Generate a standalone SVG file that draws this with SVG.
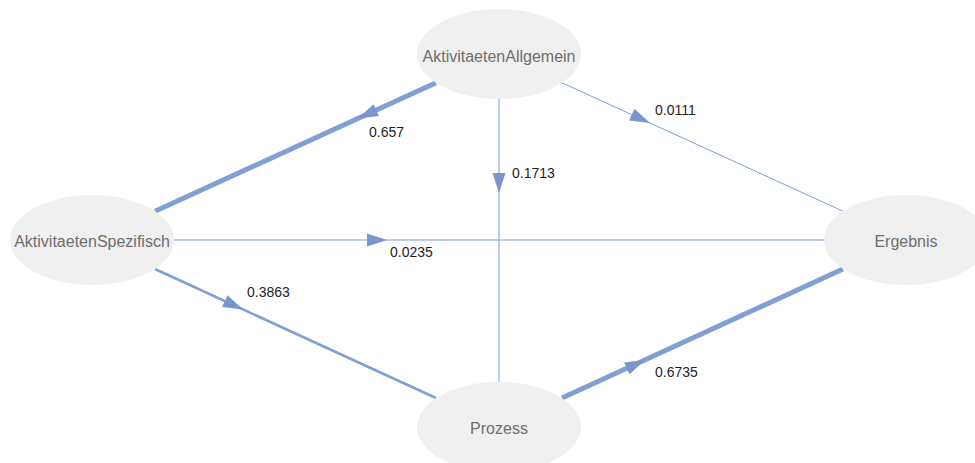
<svg xmlns="http://www.w3.org/2000/svg" width="975" height="463" viewBox="0 0 975 463">
<style>
.edge{stroke:#809fd2;fill:none;stroke-linecap:butt}
.ah{fill:#7896cc}
.node ellipse{fill:#f0f0f0}
.node text{font-family:"Liberation Sans",Arial,sans-serif;font-size:16px;fill:#6e6e6e;text-anchor:middle}
.lbl{font-family:"Liberation Sans",Arial,sans-serif;font-size:14px;fill:#1e1e1e}
</style>
<defs>
<path id="ah" d="M0,0 L-20,-6.5 L-20,6.5 Z"/>
</defs>
<rect width="975" height="463" fill="#ffffff"/>
<g id="connectors">
<line class="edge" x1="436" y1="82.8" x2="155" y2="211.2" stroke-width="5"/>
<use href="#ah" class="ah" transform="translate(358,118.5) rotate(155.44)"/>
<text class="lbl" x="369" y="137">0.657</text>

<line class="edge" x1="155" y1="269" x2="436" y2="398" stroke-width="2.6"/>
<use href="#ah" class="ah" transform="translate(243,309.4) rotate(24.68)"/>
<text class="lbl" x="247" y="297">0.3863</text>

<line class="edge" x1="174" y1="240" x2="824" y2="240" stroke-width="1"/>
<use href="#ah" class="ah" transform="translate(387,240)"/>
<text class="lbl" x="390" y="257">0.0235</text>

<line class="edge" x1="499" y1="99" x2="499" y2="382" stroke-width="1"/>
<use href="#ah" class="ah" transform="translate(499,193) rotate(90)"/>
<text class="lbl" x="512" y="178">0.1713</text>

<line class="edge" x1="562" y1="82.8" x2="843" y2="211.2" stroke-width="1"/>
<use href="#ah" class="ah" transform="translate(650,123) rotate(24.56)"/>
<text class="lbl" x="655" y="115">0.0111</text>

<line class="edge" x1="562" y1="398" x2="843" y2="269" stroke-width="5"/>
<use href="#ah" class="ah" transform="translate(645,360) rotate(-24.68)"/>
<text class="lbl" x="655" y="377">0.6735</text>
</g>
<g id="AktivitaetenAllgemein" class="node">
<ellipse cx="499" cy="54" rx="82" ry="45"/>
<text x="499" y="62">AktivitaetenAllgemein</text>
</g>
<g id="AktivitaetenSpezifisch" class="node">
<ellipse cx="92" cy="240" rx="82" ry="45"/>
<text x="92" y="247">AktivitaetenSpezifisch</text>
</g>
<g id="Ergebnis" class="node">
<ellipse cx="906" cy="240" rx="82" ry="45"/>
<text x="906" y="247">Ergebnis</text>
</g>
<g id="Prozess" class="node">
<ellipse cx="499" cy="427" rx="82" ry="45"/>
<text x="499" y="434">Prozess</text>
</g>
</svg>
